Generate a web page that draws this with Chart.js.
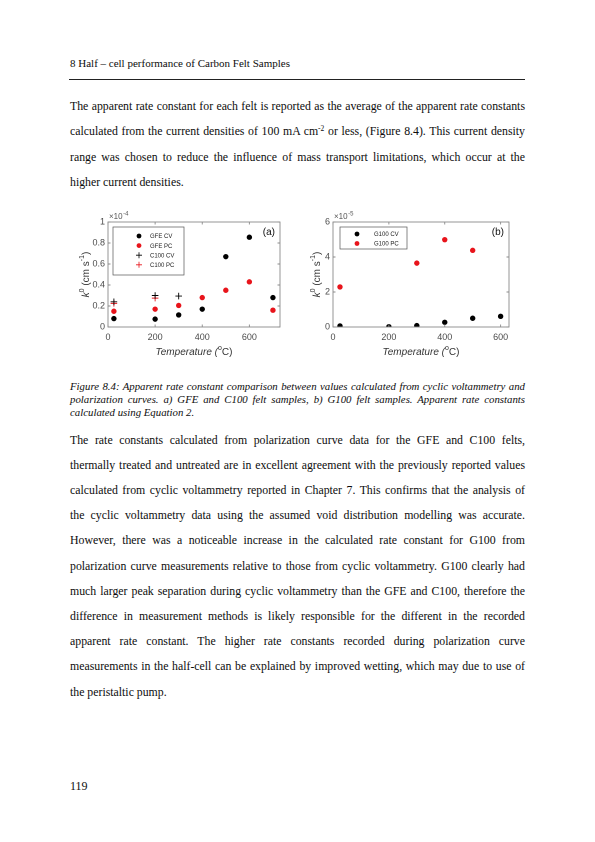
<!DOCTYPE html>
<html>
<head>
<meta charset="utf-8">
<script src="https://cdn.jsdelivr.net/npm/chart.js@4.4.1/dist/chart.umd.min.js"></script>
<style>
  html, body { margin: 0; padding: 0; background: #fff; }
  body { width: 595px; height: 842px; position: relative; overflow: hidden;
         font-family: "Liberation Serif", "Times New Roman", serif; color: #0d0d0d; }
  .ln { position: absolute; left: 70px; width: 455px; white-space: normal;
        text-align: justify; text-align-last: justify; }
  .ln.last { text-align-last: left; }
  .body { font-size: 11.8px; height: 25px; line-height: 25px; }
  .cap { font-size: 10.8px; font-style: italic; height: 13px; line-height: 13px; }
  sup { font-size: 7.5px; line-height: 0; vertical-align: 4px; }
  canvas { position: absolute; }
</style>
</head>
<body>
<div style="position:absolute;left:70px;top:56px;font-size:11px;line-height:14px;">8 Half – cell performance of Carbon Felt Samples</div>
<div style="position:absolute;left:69px;top:79px;width:456px;height:0;border-top:0.8px solid #222;"></div>

<div class="ln body" style="top:93.5px">The apparent rate constant for each felt is reported as the average of the apparent rate constants</div>
<div class="ln body" style="top:119px">calculated from the current densities of 100 mA cm<sup>-2</sup> or less, (Figure 8.4). This current density</div>
<div class="ln body" style="top:144.5px">range was chosen to reduce the influence of mass transport limitations, which occur at the</div>
<div class="ln body last" style="top:169.5px">higher current densities.</div>

<canvas id="chartA" width="212" height="160" style="left:78px;top:208px;width:212px;height:160px"></canvas>
<canvas id="chartB" width="216" height="160" style="left:303px;top:208px;width:216px;height:160px"></canvas>

<div class="ln cap" style="top:379.5px">Figure 8.4: Apparent rate constant comparison between values calculated from cyclic voltammetry and</div>
<div class="ln cap" style="top:392.5px">polarization curves. a) GFE and C100 felt samples, b) G100 felt samples. Apparent rate constants</div>
<div class="ln cap last" style="top:405.5px">calculated using Equation 2.</div>

<div class="ln body" style="top:427.5px">The rate constants calculated from polarization curve data for the GFE and C100 felts,</div>
<div class="ln body" style="top:452.7px">thermally treated and untreated are in excellent agreement with the previously reported values</div>
<div class="ln body" style="top:477.9px">calculated from cyclic voltammetry reported in Chapter 7. This confirms that the analysis of</div>
<div class="ln body" style="top:503.1px">the cyclic voltammetry data using the assumed void distribution modelling was accurate.</div>
<div class="ln body" style="top:528.3px">However, there was a noticeable increase in the calculated rate constant for G100 from</div>
<div class="ln body" style="top:553.5px">polarization curve measurements relative to those from cyclic voltammetry. G100 clearly had</div>
<div class="ln body" style="top:578.7px">much larger peak separation during cyclic voltammetry than the GFE and C100, therefore the</div>
<div class="ln body" style="top:603.9px">difference in measurement methods is likely responsible for the different in the recorded</div>
<div class="ln body" style="top:629.1px">apparent rate constant. The higher rate constants recorded during polarization curve</div>
<div class="ln body" style="top:654.3px">measurements in the half-cell can be explained by improved wetting, which may due to use of</div>
<div class="ln body last" style="top:679.5px">the peristaltic pump.</div>

<div style="position:absolute;left:70px;top:779px;font-size:12px;line-height:14px;">119</div>

<script>
// panel (a): k0 in units of 1e-4 cm/s
const tempGFE = [25, 200, 300, 400, 500, 600, 700];
const gfeCV = [0.08, 0.075, 0.115, 0.17, 0.67, 0.855, 0.28];
const gfePC = [0.15, 0.17, 0.205, 0.28, 0.35, 0.43, 0.16];
const tempC100CV = [25, 200, 300];
const c100CV = [0.24, 0.30, 0.295];
const tempC100PC = [25, 200];
const c100PC = [0.225, 0.275];
const xTicksA = [0, 200, 400, 600];
const yTicksA = [0, 0.2, 0.4, 0.6, 0.8, 1];

// panel (b): k0 in units of 1e-5 cm/s
const tempG100CV = [25, 200, 300, 400, 500, 600];
const g100CV = [0.06, 0.02, 0.08, 0.27, 0.5, 0.61];
const tempG100PC = [25, 300, 400, 500];
const g100PC = [2.29, 3.65, 4.99, 4.38];
const xTicksB = [0, 200, 400, 600];
const yTicksB = [0, 2, 4, 6];

const RED = '#e8141b';
const BLACK = '#000000';
const SANS = '"Liberation Sans", Arial, sans-serif';

const pts = (xs, ys) => xs.map((x, i) => ({ x: x, y: ys[i] }));

function dot(label, xs, ys, color) {
  return { label: label, data: pts(xs, ys), pointStyle: 'circle', pointRadius: 2.7,
           backgroundColor: color, borderColor: color, borderWidth: 0, showLine: false };
}
function cross(label, xs, ys, color) {
  return { label: label, data: pts(xs, ys), pointStyle: 'cross', pointRadius: 3.3,
           backgroundColor: color, borderColor: color, borderWidth: 0.9, showLine: false };
}

// draws the matlab-style box, inward ticks, legend, titles
const matlabFrame = {
  id: 'matlabFrame',
  afterDraw(chart, args, o) {
    const ctx = chart.ctx;
    const a = chart.chartArea;
    const xs = chart.scales.x, ys = chart.scales.y;
    ctx.save();
    ctx.strokeStyle = '#8a8a8a';
    ctx.lineWidth = 0.9;
    ctx.strokeRect(a.left, a.top, a.right - a.left, a.bottom - a.top);
    ctx.beginPath();
    xs.ticks.forEach(t => {
      const p = xs.getPixelForValue(t.value);
      ctx.moveTo(p, a.bottom); ctx.lineTo(p, a.bottom - 2.5);
      ctx.moveTo(p, a.top); ctx.lineTo(p, a.top + 2.5);
    });
    ys.ticks.forEach(t => {
      const p = ys.getPixelForValue(t.value);
      ctx.moveTo(a.left, p); ctx.lineTo(a.left + 2.5, p);
      ctx.moveTo(a.right, p); ctx.lineTo(a.right - 2.5, p);
    });
    ctx.stroke();

    // legend
    const L = o.legend;
    const lx = a.left + L.dx, ly = a.top + L.dy;
    ctx.fillStyle = '#fff';
    ctx.fillRect(lx, ly, L.w, L.h);
    ctx.strokeStyle = '#555';
    ctx.lineWidth = 0.7;
    ctx.strokeRect(lx, ly, L.w, L.h);
    ctx.font = '6px ' + SANS;
    ctx.textBaseline = 'middle';
    ctx.textAlign = 'left';
    chart.data.datasets.forEach((ds, i) => {
      const yy = ly + L.row0 + i * L.step;
      const mx = lx + L.mark;
      ctx.fillStyle = ds.backgroundColor;
      ctx.strokeStyle = ds.borderColor;
      if (ds.pointStyle === 'circle') {
        ctx.beginPath(); ctx.arc(mx, yy, 2.4, 0, Math.PI * 2); ctx.fill();
      } else {
        ctx.lineWidth = 0.8;
        ctx.beginPath();
        ctx.moveTo(mx - 3, yy); ctx.lineTo(mx + 3, yy);
        ctx.moveTo(mx, yy - 3); ctx.lineTo(mx, yy + 3);
        ctx.stroke();
      }
      ctx.fillStyle = '#222';
      ctx.fillText(ds.label, lx + L.text, yy + 0.5);
    });

    // panel label
    ctx.fillStyle = '#111';
    ctx.font = '10px ' + SANS;
    ctx.textAlign = 'right';
    ctx.fillText(o.panel, a.right - 5, a.top + 10);

    // exponent above the y axis
    ctx.fillStyle = '#555';
    ctx.textAlign = 'left';
    ctx.font = '8px ' + SANS;
    ctx.fillText('\u00d710', a.left + 1, a.top - 5);
    const w10 = ctx.measureText('\u00d710').width;
    ctx.font = '6px ' + SANS;
    ctx.fillText(o.exp, a.left + 1 + w10 + 0.5, a.top - 8);

    // x title: Temperature (oC)
    const cy = a.bottom + 25;
    const parts = [
      ['italic 10px ' + SANS, 'Temperature (', 0],
      ['7px ' + SANS, 'o', -4],
      ['10px ' + SANS, 'C)', 0]
    ];
    drawParts(ctx, parts, (a.left + a.right) / 2, cy, '#333');

    // y title: k0 (cm s-1)
    ctx.translate(a.left - o.yTitle, (a.top + a.bottom) / 2);
    ctx.rotate(-Math.PI / 2);
    const yparts = [
      ['italic 10px ' + SANS, 'k', 0],
      ['7px ' + SANS, '0', -4],
      ['10px ' + SANS, ' (cm s', 0],
      ['7px ' + SANS, '-1', -4],
      ['10px ' + SANS, ')', 0]
    ];
    drawParts(ctx, yparts, 0, 0, '#333');
    ctx.restore();
  }
};

function drawParts(ctx, parts, cx, cy, color) {
  let total = 0;
  parts.forEach(p => { ctx.font = p[0]; total += ctx.measureText(p[1]).width; });
  let x = cx - total / 2;
  ctx.fillStyle = color;
  ctx.textAlign = 'left';
  ctx.textBaseline = 'middle';
  parts.forEach(p => {
    ctx.font = p[0];
    ctx.fillText(p[1], x, cy + p[2]);
    x += ctx.measureText(p[1]).width;
  });
}

function makeChart(id, datasets, xMax, xTicks, yMax, yTicks, frame) {
  new Chart(document.getElementById(id), {
    type: 'scatter',
    data: { datasets: datasets },
    options: {
      responsive: false,
      animation: false,
      devicePixelRatio: 2,
      layout: { padding: { left: 0, right: 10, top: 14, bottom: 0 } },
      plugins: { legend: { display: false }, tooltip: { enabled: false }, matlabFrame: frame },
      scales: {
        x: {
          type: 'linear', min: 0, max: xMax,
          afterBuildTicks: s => { s.ticks = xTicks.map(v => ({ value: v })); },
          afterFit: s => { s.height = 41; },
          grid: { display: false, drawTicks: false },
          border: { display: false },
          ticks: { font: { family: SANS, size: 9 }, color: '#4a4a4a', padding: 5, maxRotation: 0, autoSkip: false }
        },
        y: {
          type: 'linear', min: 0, max: yMax,
          afterBuildTicks: s => { s.ticks = yTicks.map(v => ({ value: v })); },
          afterFit: s => { s.width = 30; },
          grid: { display: false, drawTicks: false },
          border: { display: false },
          ticks: { font: { family: SANS, size: 9 }, color: '#4a4a4a', padding: 3, autoSkip: false,
                   callback: v => String(v) }
        }
      }
    },
    plugins: [matlabFrame]
  });
}

makeChart('chartA', [
  dot('GFE CV', tempGFE, gfeCV, BLACK),
  dot('GFE PC', tempGFE, gfePC, RED),
  cross('C100 CV', tempC100CV, c100CV, BLACK),
  cross('C100 PC', tempC100PC, c100PC, RED)
], 730, xTicksA, 1, yTicksA, {
  panel: '(a)', exp: '-4', yTitle: 22,
  legend: { dx: 5, dy: 5, w: 71, h: 48, row0: 9, step: 9.6, mark: 26, text: 37 }
});

makeChart('chartB', [
  dot('G100 CV', tempG100CV, g100CV, BLACK),
  dot('G100 PC', tempG100PC, g100PC, RED)
], 630, xTicksB, 6, yTicksB, {
  panel: '(b)', exp: '-5', yTitle: 16,
  legend: { dx: 7, dy: 5, w: 67, h: 22, row0: 7, step: 9.5, mark: 17, text: 34 }
});
</script>
</body>
</html>
